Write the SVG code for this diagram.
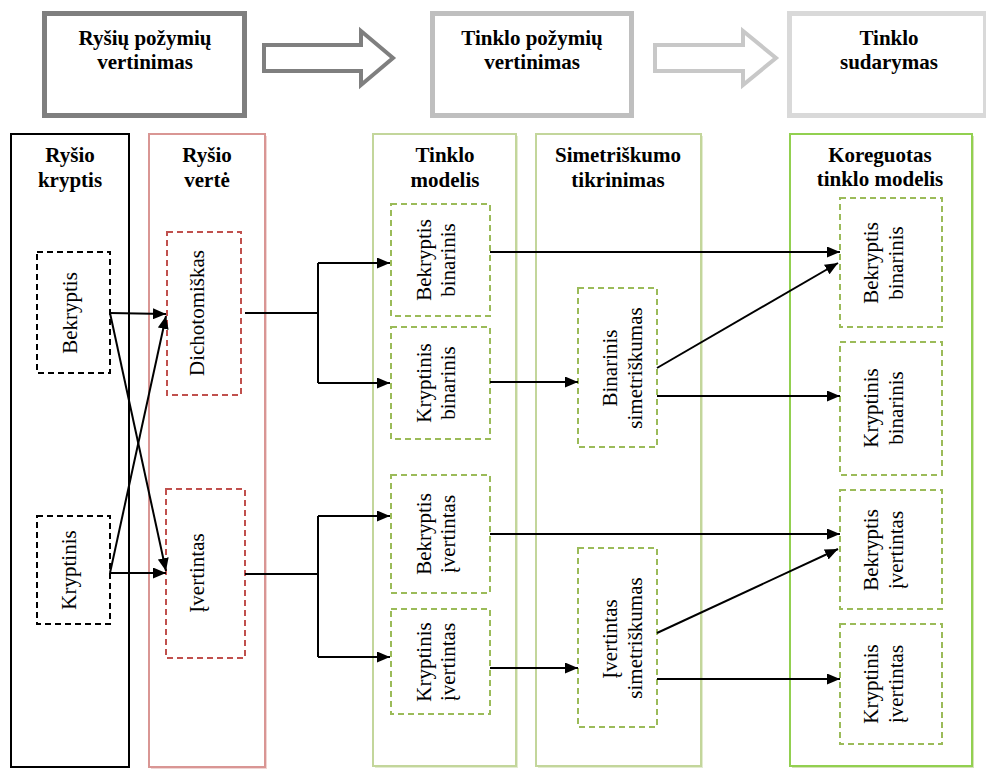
<svg xmlns="http://www.w3.org/2000/svg" width="986" height="769" viewBox="0 0 986 769">
<style>
  .t{font-family:"Liberation Serif","Times New Roman",serif;font-size:21px;fill:#000;text-anchor:middle}
  .b{font-weight:bold}
  .col{fill:#fff;stroke-width:2}
  .dash{fill:#fff;stroke-width:2;stroke-dasharray:6 4}
  .c{fill:none;stroke:#000;stroke-width:2}
  .a{marker-end:url(#ah)}
</style>
<defs>
  <marker id="ah" markerUnits="userSpaceOnUse" markerWidth="13" markerHeight="11" refX="13" refY="5.5" orient="auto">
    <path d="M0,0 L13,5.5 L0,11 z" fill="#000"/>
  </marker>
</defs>
<rect width="986" height="769" fill="#fff"/>

<g id="stage1">
  <rect x="44.5" y="13.5" width="200" height="102" fill="#fff" stroke="#7f7f7f" stroke-width="5"/>
  <text class="t b" x="145" y="45">Ryšių požymių</text>
  <text class="t b" x="145" y="69">vertinimas</text>
</g>
<g id="bigarrow1">
  <polygon points="264,45 361,45 361,31 393,58 361,85 361,71 264,71" fill="#fff" stroke="#7f7f7f" stroke-width="4"/>
</g>
<g id="stage2">
  <rect x="432.5" y="13.5" width="199" height="102" fill="#fff" stroke="#bfbfbf" stroke-width="5"/>
  <text class="t b" x="532" y="45">Tinklo požymių</text>
  <text class="t b" x="532" y="69">vertinimas</text>
</g>
<g id="bigarrow2">
  <polygon points="655,45 743,45 743,31 776,58 743,85 743,71 655,71" fill="#fff" stroke="#c8c8c8" stroke-width="4"/>
</g>
<g id="stage3">
  <rect x="789.5" y="13.5" width="196" height="102" fill="#fff" stroke="#d9d9d9" stroke-width="5"/>
  <text class="t b" x="889" y="45">Tinklo</text>
  <text class="t b" x="889" y="69">sudarymas</text>
</g>

<g id="col1">
  <rect class="col" x="11" y="134" width="118" height="633" stroke="#000"/>
  <text class="t b" x="70" y="162">Ryšio</text>
  <text class="t b" x="70" y="187">kryptis</text>
</g>
<g id="col2">
  <rect x="151" y="136" width="116" height="633" fill="#e6b9b8" opacity="0.6"/>
  <rect class="col" x="149" y="134" width="116" height="633" stroke="#d99694" stroke-width="2.5"/>
  <text class="t b" x="207" y="162">Ryšio</text>
  <text class="t b" x="207" y="187">vertė</text>
</g>
<g id="col3">
  <rect x="375" y="136" width="143" height="632" fill="#d7e4bd" opacity="0.7"/>
  <rect class="col" x="373" y="134" width="143" height="632" stroke="#c3d69b"/>
  <text class="t b" x="445" y="162">Tinklo</text>
  <text class="t b" x="445" y="187">modelis</text>
</g>
<g id="col4">
  <rect x="538" y="136" width="165" height="632" fill="#d7e4bd" opacity="0.7"/>
  <rect class="col" x="536" y="134" width="165" height="632" stroke="#c3d69b"/>
  <text class="t b" x="618" y="162">Simetriškumo</text>
  <text class="t b" x="618" y="187">tikrinimas</text>
</g>
<g id="col5">
  <rect x="792" y="136" width="182" height="632" fill="#c3d69b" opacity="0.7"/>
  <rect class="col" x="790" y="134" width="182" height="632" stroke="#92d050"/>
  <text class="t b" x="880" y="162">Koreguotas</text>
  <text class="t b" x="880" y="186">tinklo modelis</text>
</g>

<g id="n-bekryptis">
  <rect class="dash" x="37" y="252" width="73" height="121" stroke="#000"/>
  <text class="t" transform="translate(77,313) rotate(-90)">Bekryptis</text>
</g>
<g id="n-kryptinis">
  <rect class="dash" x="37" y="516" width="73" height="108" stroke="#000"/>
  <text class="t" transform="translate(76,570) rotate(-90)">Kryptinis</text>
</g>
<g id="n-dichotomiskas">
  <rect class="dash" x="167" y="232" width="74" height="163" stroke="#c0504d"/>
  <text class="t" transform="translate(204,313) rotate(-90)">Dichotomiškas</text>
</g>
<g id="n-ivertintas">
  <rect class="dash" x="166" y="489" width="79" height="169" stroke="#c0504d"/>
  <text class="t" transform="translate(204,573) rotate(-90)">Įvertintas</text>
</g>

<g id="n-m-bb">
  <rect class="dash" x="391" y="204" width="99" height="112" stroke="#9bbb59"/>
  <text class="t" transform="translate(431,260) rotate(-90)">Bekryptis</text>
  <text class="t" transform="translate(455,260) rotate(-90)">binarinis</text>
</g>
<g id="n-m-kb">
  <rect class="dash" x="391" y="327" width="99" height="112" stroke="#9bbb59"/>
  <text class="t" transform="translate(431,383) rotate(-90)">Kryptinis</text>
  <text class="t" transform="translate(455,383) rotate(-90)">binarinis</text>
</g>
<g id="n-m-bi">
  <rect class="dash" x="391" y="475" width="99" height="118" stroke="#9bbb59"/>
  <text class="t" transform="translate(431,534) rotate(-90)">Bekryptis</text>
  <text class="t" transform="translate(455,534) rotate(-90)">įvertintas</text>
</g>
<g id="n-m-ki">
  <rect class="dash" x="391" y="609" width="99" height="105" stroke="#9bbb59"/>
  <text class="t" transform="translate(431,662) rotate(-90)">Kryptinis</text>
  <text class="t" transform="translate(455,662) rotate(-90)">įvertintas</text>
</g>

<g id="n-s-bin">
  <rect class="dash" x="578" y="288" width="79" height="159" stroke="#9bbb59"/>
  <text class="t" transform="translate(617,368) rotate(-90)">Binarinis</text>
  <text class="t" transform="translate(642,368) rotate(-90)">simetriškumas</text>
</g>
<g id="n-s-iv">
  <rect class="dash" x="578" y="548" width="79" height="179" stroke="#9bbb59"/>
  <text class="t" transform="translate(617,639) rotate(-90)">Įvertintas</text>
  <text class="t" transform="translate(642,638) rotate(-90)">simetriškumas</text>
</g>

<g id="n-k-bb">
  <rect class="dash" x="840" y="198" width="102" height="129" stroke="#9bbb59"/>
  <text class="t" transform="translate(878,263) rotate(-90)">Bekryptis</text>
  <text class="t" transform="translate(903,263) rotate(-90)">binarinis</text>
</g>
<g id="n-k-kb">
  <rect class="dash" x="840" y="342" width="102" height="133" stroke="#9bbb59"/>
  <text class="t" transform="translate(878,408) rotate(-90)">Kryptinis</text>
  <text class="t" transform="translate(903,408) rotate(-90)">binarinis</text>
</g>
<g id="n-k-bi">
  <rect class="dash" x="840" y="490" width="102" height="119" stroke="#9bbb59"/>
  <text class="t" transform="translate(878,550) rotate(-90)">Bekryptis</text>
  <text class="t" transform="translate(903,550) rotate(-90)">įvertintas</text>
</g>
<g id="n-k-ki">
  <rect class="dash" x="840" y="624" width="102" height="120" stroke="#9bbb59"/>
  <text class="t" transform="translate(878,684) rotate(-90)">Kryptinis</text>
  <text class="t" transform="translate(903,684) rotate(-90)">įvertintas</text>
</g>

<g id="connectors">
  <path class="c a" d="M110,313 L166,314"/>
  <path class="c a" d="M110,313 L166,571"/>
  <path class="c a" d="M110,573 L166,316"/>
  <path class="c a" d="M110,573 L166,573"/>
  <path class="c" d="M245,313 L318,313 M318,263 L318,383"/>
  <path class="c a" d="M318,263 L390,263"/>
  <path class="c a" d="M318,383 L390,383"/>
  <path class="c" d="M245,574 L318,574 M318,516 L318,657"/>
  <path class="c a" d="M318,516 L390,516"/>
  <path class="c a" d="M318,657 L390,657"/>
  <path class="c a" d="M490,252 L840,252"/>
  <path class="c a" d="M490,382 L578,382"/>
  <path class="c a" d="M657,368 L838,263"/>
  <path class="c a" d="M657,396 L840,396"/>
  <path class="c a" d="M490,534 L840,534"/>
  <path class="c a" d="M490,668 L578,668"/>
  <path class="c a" d="M657,633 L838,549"/>
  <path class="c a" d="M657,679 L840,679"/>
</g>
</svg>
